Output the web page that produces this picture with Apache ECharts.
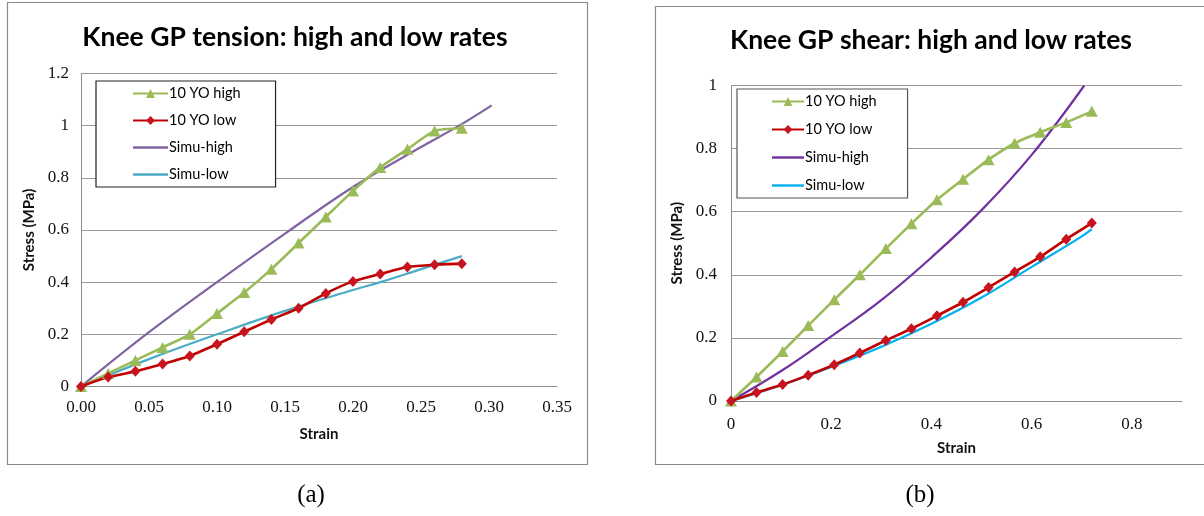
<!DOCTYPE html>
<html>
<head>
<meta charset="utf-8">
<script src="https://cdn.jsdelivr.net/npm/echarts@6/dist/echarts.min.js"></script>
<style>
  html, body { margin: 0; padding: 0; background: #fff; }
  #wrap { position: relative; width: 1204px; height: 516px; overflow: hidden; background: #fff; }
  #tension { position: absolute; left: 0; top: 0; width: 602px; height: 516px; }
  #shear { position: absolute; left: 602px; top: 0; width: 602px; height: 516px; }
</style>
</head>
<body>
<div id="wrap"><div id="tension"></div><div id="shear"></div></div>
<script>
// ---------- (a) tension ----------
const tensionStrain = [0, 0.02, 0.04, 0.06, 0.08, 0.10, 0.12, 0.14, 0.16, 0.18, 0.20, 0.22, 0.24, 0.26, 0.28];
const tensionHigh   = [0, 0.05, 0.10, 0.15, 0.20, 0.28, 0.36, 0.45, 0.55, 0.65, 0.75, 0.84, 0.91, 0.98, 0.99];
const tensionLow    = [0, 0.036, 0.058, 0.086, 0.117, 0.162, 0.21, 0.257, 0.30, 0.357, 0.403, 0.431, 0.458, 0.467, 0.471];
const tensionSimuHighStrain = [0, 0.05, 0.10, 0.15, 0.20, 0.25, 0.278, 0.302];
const tensionSimuHigh       = [0, 0.208, 0.40, 0.586, 0.765, 0.918, 1.0, 1.078];
const tensionSimuLowStrain  = [0, 0.05, 0.10, 0.15, 0.20, 0.22, 0.25, 0.28];
const tensionSimuLow        = [0, 0.105, 0.20, 0.29, 0.37, 0.40, 0.45, 0.50];

// ---------- (b) shear ----------
const shearStrain = [0, 0.051, 0.103, 0.154, 0.206, 0.257, 0.309, 0.36, 0.411, 0.463, 0.514, 0.566, 0.617, 0.669, 0.72];
const shearHigh   = [0, 0.076, 0.157, 0.239, 0.321, 0.40, 0.483, 0.562, 0.638, 0.703, 0.765, 0.817, 0.852, 0.883, 0.918];
const shearLow    = [0, 0.027, 0.052, 0.082, 0.115, 0.152, 0.192, 0.229, 0.27, 0.313, 0.36, 0.409, 0.457, 0.513, 0.564];
const shearSimuHighStrain = [0, 0.1, 0.2, 0.3, 0.4, 0.5, 0.6, 0.705];
const shearSimuHigh       = [0, 0.095, 0.205, 0.32, 0.455, 0.605, 0.78, 1.0];
const shearSimuLowStrain  = [0, 0.1, 0.2, 0.3, 0.4, 0.5, 0.6, 0.7, 0.72];
const shearSimuLow        = [0, 0.05, 0.108, 0.172, 0.245, 0.328, 0.425, 0.522, 0.545];

const seriesNames = ['10 YO high', '10 YO low', 'Simu-high', 'Simu-low'];

const zip = (xs, ys) => xs.map((x, i) => [x, ys[i]]);

// plain stroke-like bar used as the legend key of the model curves
const lineKey = 'path://M0,0 H40 V3 H0 Z';

function textEl(x, y, text, font, color) {
  return {
    type: 'text', x: x, y: y, silent: true,
    style: {
      text: text, font: font, fill: color || '#000',
      align: 'center', verticalAlign: 'middle',
      textAlign: 'center', textVerticalAlign: 'middle'
    }
  };
}

function buildOption(cfg) {
  const tickFont = { fontFamily: 'Liberation Serif', fontSize: 17, color: '#111' };
  const nameFont = { fontFamily: 'Lato', fontWeight: 'bold', fontSize: 15, color: '#111' };
  return {
    animation: false,
    backgroundColor: '#fff',
    graphic: [
      { type: 'rect', silent: true, shape: cfg.frame,
        style: { fill: 'none', stroke: '#8a8a8a', lineWidth: 1.2 } },
      textEl(cfg.titleX, cfg.titleY, cfg.title, 'bold 26.5px Lato', '#000'),
      textEl(cfg.capX, cfg.capY, cfg.caption, '25px "Liberation Serif"', '#000')
    ],
    grid: cfg.grid,
    legend: {
      orient: 'vertical',
      left: cfg.legend.left, top: cfg.legend.top,
      padding: cfg.legend.padding,
      itemGap: cfg.legend.gap,
      itemWidth: cfg.legend.itemWidth, itemHeight: 11,
      borderColor: cfg.legend.border, borderWidth: 1.2,
      backgroundColor: '#fff',
      data: [
        { name: seriesNames[0] },
        { name: seriesNames[1] },
        { name: seriesNames[2], icon: lineKey },
        { name: seriesNames[3], icon: lineKey }
      ],
      textStyle: { fontFamily: 'Lato', fontSize: 14.5, color: '#000', padding: [0, 0, 0, -4] }
    },
    xAxis: {
      type: 'value', min: 0, max: cfg.xMax, interval: cfg.xInterval,
      name: 'Strain', nameLocation: 'middle', nameGap: cfg.xNameGap, nameTextStyle: nameFont,
      axisLine: { show: true, lineStyle: { color: '#8c8c8c', width: 1 } },
      axisTick: { show: false },
      splitLine: { show: false },
      axisLabel: Object.assign({ margin: cfg.xLabelMargin, showMaxLabel: cfg.showMaxX,
        formatter: cfg.xFormat }, tickFont)
    },
    yAxis: {
      type: 'value', min: 0, max: cfg.yMax, interval: 0.2,
      name: 'Stress (MPa)', nameLocation: 'middle', nameGap: cfg.yNameGap, nameTextStyle: nameFont,
      axisLine: { show: true, lineStyle: { color: '#8c8c8c', width: 1 } },
      axisTick: { show: false },
      splitLine: { show: true, lineStyle: { color: '#9a9a9a', width: 1 } },
      axisLabel: Object.assign({ margin: cfg.yLabelMargin }, tickFont)
    },
    series: [
      { name: seriesNames[0], type: 'line', data: zip(cfg.strain, cfg.high),
        smooth: 0.2, symbol: 'triangle', symbolSize: [12, 11],
        lineStyle: { color: '#9BBB59', width: 2.6 }, itemStyle: { color: '#9BBB59' }, z: 3 },
      { name: seriesNames[1], type: 'line', data: zip(cfg.strain, cfg.low),
        smooth: 0.2, symbol: 'diamond', symbolSize: [10, 11],
        lineStyle: { color: '#C00000', width: 2.6 }, itemStyle: { color: '#C8141E' }, z: 3 },
      { name: seriesNames[2], type: 'line', data: zip(cfg.simuHighStrain, cfg.simuHigh),
        smooth: 0.4, symbol: 'none',
        lineStyle: { color: cfg.purple, width: 2.2 }, itemStyle: { color: cfg.purple }, z: 2 },
      { name: seriesNames[3], type: 'line', data: zip(cfg.simuLowStrain, cfg.simuLow),
        smooth: 0.4, symbol: 'none',
        lineStyle: { color: cfg.cyan, width: 2.2 }, itemStyle: { color: cfg.cyan }, z: 2 }
    ]
  };
}

const tensionChart = echarts.init(document.getElementById('tension'), null, { renderer: 'canvas' });
tensionChart.setOption(buildOption({
  frame: { x: 7.5, y: 2.5, width: 580, height: 462 },
  title: 'Knee GP tension: high and low rates', titleX: 295, titleY: 37,
  caption: '(a)', capX: 311, capY: 495,
  grid: { left: 81, right: 45, top: 73.5, bottom: 129.5 },
  legend: { left: 96, top: 81, padding: [5, 35, 5, 36], gap: 12, itemWidth: 35, border: '#222' },
  xMax: 0.35, xInterval: 0.05, showMaxX: true, xFormat: v => v.toFixed(2),
  xLabelMargin: 13, xNameGap: 40,
  yMax: 1.2, yNameGap: 44, yLabelMargin: 12,
  strain: tensionStrain, high: tensionHigh, low: tensionLow,
  simuHighStrain: tensionSimuHighStrain, simuHigh: tensionSimuHigh,
  simuLowStrain: tensionSimuLowStrain, simuLow: tensionSimuLow,
  purple: '#8064A2', cyan: '#4BACC6'
}));

const shearChart = echarts.init(document.getElementById('shear'), null, { renderer: 'canvas' });
shearChart.setOption(buildOption({
  frame: { x: 53.5, y: 6.5, width: 560, height: 458 },
  title: 'Knee GP shear: high and low rates', titleX: 329, titleY: 40,
  caption: '(b)', capX: 318, capY: 495,
  grid: { left: 129, right: 22, top: 85.5, bottom: 115 },
  legend: { left: 135, top: 89, padding: [5, 31, 5, 34], gap: 13, itemWidth: 32, border: '#555' },
  xMax: 0.9, xInterval: 0.2, showMaxX: false, xFormat: v => String(Math.round(v * 10) / 10),
  xLabelMargin: 15, xNameGap: 40,
  yMax: 1, yNameGap: 38, yLabelMargin: 14,
  strain: shearStrain, high: shearHigh, low: shearLow,
  simuHighStrain: shearSimuHighStrain, simuHigh: shearSimuHigh,
  simuLowStrain: shearSimuLowStrain, simuLow: shearSimuLow,
  purple: '#7030A0', cyan: '#00B0F0'
}));
</script>
</body>
</html>
